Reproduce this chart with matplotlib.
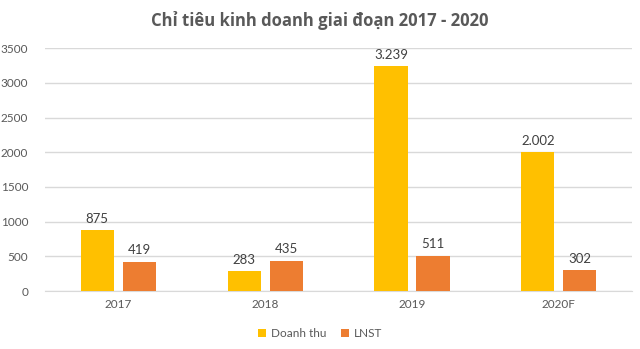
import numpy as np
import matplotlib.pyplot as plt

years = ["2017", "2018", "2019", "2020F"]
doanh_thu = [875, 283, 3239, 2002]
lnst = [419, 435, 511, 302]
dt_labels = ["875", "283", "3.239", "2.002"]
ln_labels = ["419", "435", "511", "302"]

plt.rcParams['font.family'] = ['Lato', 'DejaVu Sans']

fig = plt.figure(figsize=(6.4, 3.49), dpi=100)
ax = fig.add_axes([0.07, 0.166, 0.918, 0.696])

x = np.arange(len(years))
w = 0.225
b1 = ax.bar(x - 0.143, doanh_thu, w, color="#FFC000", label="Doanh thu", zorder=3)
b2 = ax.bar(x + 0.143, lnst, w, color="#ED7D31", label="LNST", zorder=3)

for bars, labels in [(b1, dt_labels), (b2, ln_labels)]:
    for rect, t in zip(bars, labels):
        ax.annotate(t, (rect.get_x() + rect.get_width() / 2, rect.get_height()),
                    xytext=(0, 4), textcoords="offset points", ha="center", va="bottom",
                    fontsize=9.5, color="#404040")

ax.set_xlim(-0.5, 3.5)
ax.set_ylim(0, 3500)
ax.set_yticks(np.arange(0, 3501, 500))
ax.set_xticks(x)
ax.set_xticklabels(years)
ax.tick_params(axis="both", length=0, labelsize=8.5, labelcolor="#595959")
ax.tick_params(axis="y", pad=12)
ax.tick_params(axis="x", pad=6)
ax.grid(axis="y", color="#D9D9D9", linewidth=1, zorder=0)
for s in ["top", "right", "left"]:
    ax.spines[s].set_visible(False)
ax.spines["bottom"].set_color("#D9D9D9")

fig.text(0.5, 0.94, "Chỉ tiêu kinh doanh giai đoạn 2017 - 2020", ha="center", va="center",
         fontsize=12, fontweight="bold", color="#595959", family=["Open Sans", "DejaVu Sans"])

fig.legend(loc="center", bbox_to_anchor=(0.5, 0.045), ncol=2, frameon=False,
           fontsize=8.5, labelcolor="#595959", handlelength=0.7, handleheight=0.7,
           handletextpad=0.4, columnspacing=1.2)

fig.savefig("out.png", dpi=100)
